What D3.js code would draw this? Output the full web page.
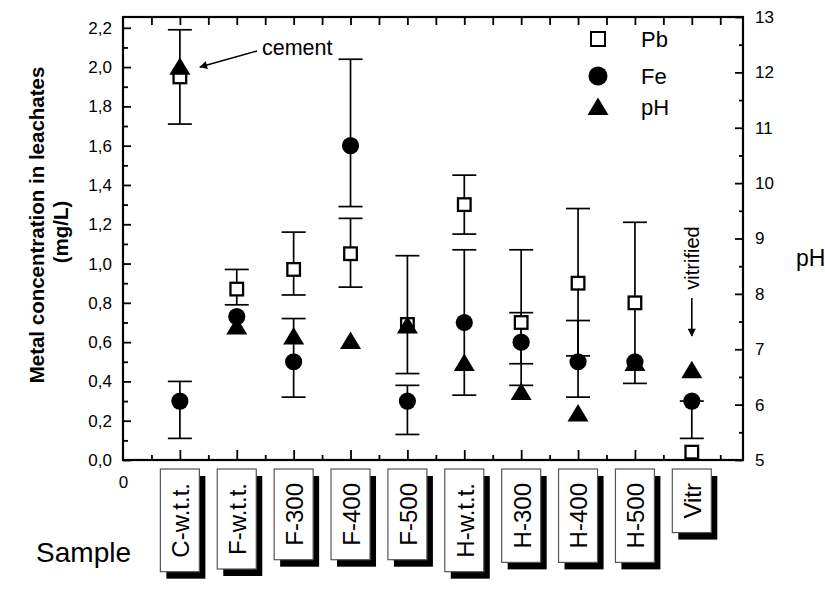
<!DOCTYPE html>
<meta charset="utf-8">
<style>
body { margin: 0; background: #fff; }
svg { font-family: "Liberation Sans", Arial, sans-serif; }
.tick line { stroke: #000; stroke-width: 1.8px; }
.tick text { font-size: 17px; fill: #000; }
</style>
<script src="https://d3js.org/d3.v7.min.js"></script>
<body>
<script>

// samples along the x axis
var categories = ["C-w.t.t.", "F-w.t.t.", "F-300", "F-400", "F-500", "H-w.t.t.", "H-300", "H-400", "H-500", "Vitr"];

// Pb (mg/L) with error bar ends
var pb   = [1.95, 0.87, 0.97, 1.05, 0.69, 1.30, 0.70, 0.90, 0.80, 0.04];
var pbLo = [1.71, 0.79, 0.84, 0.88, 0.44, 1.15, 0.38, 0.53, 0.39, null];
var pbHi = [2.19, 0.97, 1.16, 1.23, 1.04, 1.45, 1.07, 1.28, 1.21, null];

// Fe (mg/L) with error bar ends
var fe   = [0.30, 0.73, 0.50, 1.60, 0.30, 0.70, 0.60, 0.50, 0.50, 0.30];
var feLo = [0.11, null, 0.32, 1.29, 0.13, 0.33, 0.49, 0.32, null, 0.11];
var feHi = [0.40, null, 0.72, 2.04, 0.38, 1.07, 0.75, 0.71, null, 0.30];

// pH of the leachates (right axis)
var ph = [12.1, 7.41, 7.23, 7.15, 7.43, 6.75, 6.23, 5.84, 6.75, 6.62];

var leftTicks = [0, 0.2, 0.4, 0.6, 0.8, 1.0, 1.2, 1.4, 1.6, 1.8, 2.0, 2.2];
var rightTicks = [5, 6, 7, 8, 9, 10, 11, 12, 13];

var W = 825, H = 593;
var frame = {left: 123, right: 743, top: 17, bottom: 460};

var svg = d3.select("body").append("svg")
    .attr("width", W)
    .attr("height", H);

var x = d3.scaleLinear().domain([0, 10.9]).range([frame.left, frame.right]);
var yL = d3.scaleLinear().domain([0, 2.255]).range([frame.bottom, frame.top]);
var yR = d3.scaleLinear().domain([5, 13]).range([frame.bottom, frame.top]);

var comma = function(d) { return d3.format(".1f")(d).replace(".", ","); };

// left axis, ticks pointing inward
svg.append("g")
    .attr("transform", "translate(" + frame.left + ",0)")
    .call(d3.axisLeft(yL).tickValues(leftTicks).tickSize(-8).tickPadding(11).tickFormat(comma));
svg.append("g")
    .attr("transform", "translate(" + frame.left + ",0)")
    .call(d3.axisLeft(yL).tickValues(d3.range(0.1, 2.2, 0.2)).tickSize(-5).tickFormat(""));

// right axis (pH)
svg.append("g")
    .attr("transform", "translate(" + frame.right + ",0)")
    .call(d3.axisRight(yR).tickValues(rightTicks).tickSize(-8).tickPadding(12));
svg.append("g")
    .attr("transform", "translate(" + frame.right + ",0)")
    .call(d3.axisRight(yR).tickValues(d3.range(5.5, 13, 1)).tickSize(-4).tickFormat(""));

// bottom axis
svg.append("g")
    .attr("transform", "translate(0," + frame.bottom + ")")
    .call(d3.axisBottom(x).tickValues(d3.range(1, 11)).tickSize(-10).tickFormat(""));
svg.append("g")
    .attr("transform", "translate(0," + frame.bottom + ")")
    .call(d3.axisBottom(x).tickValues(d3.range(0.5, 11, 1)).tickSize(-5).tickFormat(""));
svg.append("g")
    .attr("transform", "translate(0," + frame.bottom + ")")
    .call(d3.axisBottom(x).tickValues([0]).tickSize(0).tickPadding(16).tickFormat(d3.format("d")));

// top axis
svg.append("g")
    .attr("transform", "translate(0," + frame.top + ")")
    .call(d3.axisTop(x).tickValues(d3.range(0.5, 11, 0.5)).tickSize(-8).tickFormat(""));

svg.selectAll(".domain").remove();

svg.append("rect")
    .attr("x", frame.left)
    .attr("y", frame.top)
    .attr("width", frame.right - frame.left)
    .attr("height", frame.bottom - frame.top)
    .attr("fill", "none")
    .attr("stroke", "#000")
    .attr("stroke-width", 2.2);

// axis titles
svg.append("text")
    .attr("transform", "translate(37,225) rotate(-90)")
    .attr("text-anchor", "middle")
    .attr("dy", "0.35em")
    .style("font-size", "20.5px")
    .style("font-weight", "bold")
    .text("Metal concentration in leachates");
svg.append("text")
    .attr("transform", "translate(61,232) rotate(-90)")
    .attr("text-anchor", "middle")
    .attr("dy", "0.35em")
    .style("font-size", "20.5px")
    .style("font-weight", "bold")
    .text("(mg/L)");
svg.append("text")
    .attr("x", 796)
    .attr("y", 258)
    .attr("dy", "0.35em")
    .style("font-size", "23px")
    .text("pH");
svg.append("text")
    .attr("x", 131)
    .attr("y", 552)
    .attr("dy", "0.35em")
    .attr("text-anchor", "end")
    .style("font-size", "28px")
    .text("Sample");

// sample label boxes with drop shadow
var boxes = svg.selectAll(".box")
    .data(categories)
  .enter().append("g")
    .attr("class", "box")
    .attr("transform", function(d, i) { return "translate(" + x(i + 1) + ",469)"; });

boxes.each(function(d) {
  var g = d3.select(this);
  var t = g.append("text")
      .attr("text-anchor", "middle")
      .attr("dy", "0.35em")
      .style("font-size", "24px")
      .text(d);
  var len = t.node().getComputedTextLength();
  var h = len + 28, w = 39;
  t.attr("transform", "translate(1," + (h / 2) + ") rotate(-90)");
  g.insert("rect", "text")
      .attr("x", -w / 2 + 6)
      .attr("y", 7)
      .attr("width", w)
      .attr("height", h)
      .attr("fill", "#000");
  g.insert("rect", "text")
      .attr("x", -w / 2)
      .attr("y", 0)
      .attr("width", w)
      .attr("height", h)
      .attr("fill", "#fff")
      .attr("stroke", "#555")
      .attr("stroke-width", 1.2);
});

// error bars
function errorBars(lo, hi, scale) {
  var idx = d3.range(categories.length).filter(function(i) { return lo[i] != null; });
  var g = svg.append("g").attr("stroke", "#000").attr("stroke-width", 1.7);
  g.selectAll(".v").data(idx).enter().append("line")
      .attr("x1", function(i) { return x(i + 1); })
      .attr("x2", function(i) { return x(i + 1); })
      .attr("y1", function(i) { return scale(lo[i]); })
      .attr("y2", function(i) { return scale(hi[i]); });
  [lo, hi].forEach(function(arr) {
    g.selectAll(null).data(idx).enter().append("line")
        .attr("x1", function(i) { return x(i + 1) - 12; })
        .attr("x2", function(i) { return x(i + 1) + 12; })
        .attr("y1", function(i) { return scale(arr[i]); })
        .attr("y2", function(i) { return scale(arr[i]); });
  });
}
errorBars(pbLo, pbHi, yL);
errorBars(feLo, feHi, yL);

var tri = "M0,-9.5L10.5,8L-10.5,8Z";

// Pb squares
svg.append("g").selectAll("rect")
    .data(pb)
  .enter().append("rect")
    .attr("x", function(d, i) { return x(i + 1) - 6.3; })
    .attr("y", function(d) { return yL(d) - 6.3; })
    .attr("width", 12.6)
    .attr("height", 12.6)
    .attr("fill", "#fff")
    .attr("stroke", "#000")
    .attr("stroke-width", 2.3);

// Fe circles
svg.append("g").selectAll("circle")
    .data(fe)
  .enter().append("circle")
    .attr("cx", function(d, i) { return x(i + 1); })
    .attr("cy", function(d) { return yL(d); })
    .attr("r", 8.6)
    .attr("fill", "#000");

// pH triangles
svg.append("g").selectAll("path")
    .data(ph)
  .enter().append("path")
    .attr("d", tri)
    .attr("transform", function(d, i) { return "translate(" + x(i + 1) + "," + yR(d) + ")"; })
    .attr("fill", "#000");

// legend
var legend = svg.append("g").attr("transform", "translate(598,0)");
legend.append("rect").attr("x", -7).attr("y", 32).attr("width", 14).attr("height", 14)
    .attr("fill", "#fff").attr("stroke", "#000").attr("stroke-width", 2);
legend.append("circle").attr("cx", 0).attr("cy", 76).attr("r", 9.5).attr("fill", "#000");
legend.append("path").attr("d", tri).attr("transform", "translate(0,107)").attr("fill", "#000");
legend.selectAll(".lbl")
    .data([["Pb", 39], ["Fe", 76], ["pH", 107]])
  .enter().append("text")
    .attr("x", 43)
    .attr("y", function(d) { return d[1]; })
    .attr("dy", "0.35em")
    .style("font-size", "22px")
    .text(function(d) { return d[0]; });

// annotations
svg.append("defs").append("marker")
    .attr("id", "head")
    .attr("viewBox", "0 0 10 10")
    .attr("refX", 9).attr("refY", 5)
    .attr("markerWidth", 10).attr("markerHeight", 8)
    .attr("markerUnits", "userSpaceOnUse")
    .attr("orient", "auto")
  .append("path")
    .attr("d", "M0,0L10,5L0,10Z")
    .attr("fill", "#000");

svg.append("line")
    .attr("x1", 257).attr("y1", 51)
    .attr("x2", x(1) + 20).attr("y2", yL(2.0))
    .attr("stroke", "#000").attr("stroke-width", 1.6)
    .attr("marker-end", "url(#head)");
svg.append("text")
    .attr("x", 262)
    .attr("y", 47)
    .attr("dy", "0.35em")
    .style("font-size", "21.5px")
    .text("cement");

svg.append("text")
    .attr("transform", "translate(" + x(10) + ",258) rotate(-90)")
    .attr("text-anchor", "middle")
    .attr("dy", "0.35em")
    .style("font-size", "20px")
    .text("vitrified");
svg.append("line")
    .attr("x1", x(10)).attr("y1", 298)
    .attr("x2", x(10)).attr("y2", 336)
    .attr("stroke", "#000").attr("stroke-width", 1.6)
    .attr("marker-end", "url(#head)");

</script>
